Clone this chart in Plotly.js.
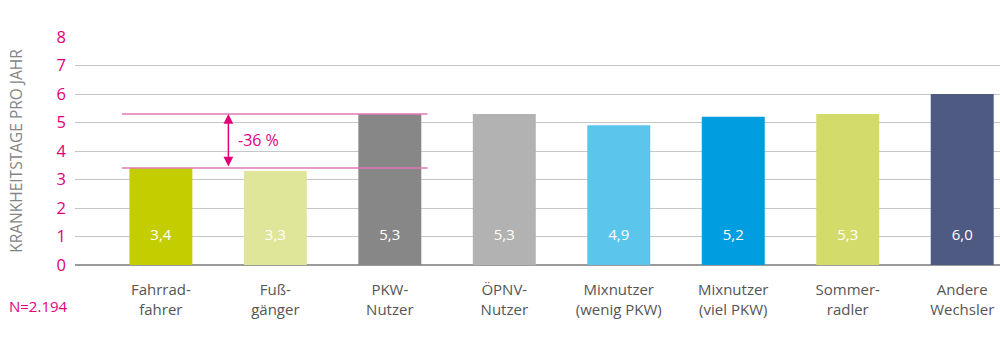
<!DOCTYPE html>
<html><head><meta charset="utf-8">
<script src="https://cdn.plot.ly/plotly-3.0.1.min.js"></script>
<style>html,body{margin:0;padding:0;background:#fff}#c{width:1000px;height:363px}</style>
</head><body><div id="c"></div>
<script>
const categories = ["Fahrrad-<br>fahrer","Fuß-<br>gänger","PKW-<br>Nutzer","ÖPNV-<br>Nutzer","Mixnutzer<br>(wenig PKW)","Mixnutzer<br>(viel PKW)","Sommer-<br>radler","Andere<br>Wechsler"];
const values = [3.4, 3.3, 5.3, 5.3, 4.9, 5.2, 5.3, 6.0];
const colors = ["#c3cd00","#dfe69a","#878787","#b2b2b2","#5bc5ec","#009ee0","#d3dc6a","#4f5a83"];
const gridTicks = [0,1,2,3,4,5,6,7];
const labelTicks = [0,1,2,3,4,5,6,7,8];
const compareHigh = values[2], compareLow = values[0];
const diffText = "-36 %";
const sampleText = "N=2.194";
const labelLevel = 1;

const idx = categories.map((c,i)=>i);
const pink = "#e2007a";
const font = "'Open Sans', 'Noto Sans', sans-serif";

const traces = [
  {type:"bar", x:idx, y:values, marker:{color:colors}, width:0.55, hoverinfo:"none"},
  {type:"scatter", mode:"text", x:idx, y:values.map(()=>labelLevel), yaxis:"y2",
   text:values.map(v=>v.toFixed(1).replace(".",",")), textfont:{color:"#ffffff", size:15, family:font}, hoverinfo:"none"}
];

const layout = {
  width:1000, height:363,
  margin:{l:75, r:0, t:37, b:98},
  paper_bgcolor:"#fff", plot_bgcolor:"#fff",
  showlegend:false,
  font:{family:font},
  xaxis:{range:[-0.75,7.33], tickvals:idx, ticktext:categories, showgrid:false, zeroline:false,
    showline:false, ticks:"", tickfont:{size:15,color:"#555555",family:font}, ticklabelstandoff:14},
  yaxis:{range:[0,8], tickvals:gridTicks, showticklabels:false, showgrid:true, gridcolor:"#c6c6c6", gridwidth:1,
    zeroline:true, zerolinecolor:"#9a9a9a", zerolinewidth:1.5, ticks:""},
  yaxis2:{range:[0,8], overlaying:"y", side:"left", tickvals:labelTicks, showgrid:false, zeroline:false,
    tickfont:{size:16.5,color:pink,family:font}, ticks:"", ticklabelstandoff:8,
    title:{text:"KRANKHEITSTAGE PRO JAHR", font:{size:15.5,color:"#858585",family:font}, standoff:30}},
  shapes:[
    {type:"line", xref:"x", yref:"y", x0:-0.34, x1:2.33, y0:compareHigh, y1:compareHigh, line:{color:"#e07ab4", width:1.5}},
    {type:"line", xref:"x", yref:"y", x0:-0.34, x1:2.33, y0:compareLow, y1:compareLow, line:{color:"#e07ab4", width:1.5}}
  ],
  annotations:[
    {xref:"x", yref:"y", x:0.59, y:compareHigh, axref:"x", ayref:"y", ax:0.59, ay:compareLow, text:"",
     showarrow:true, arrowside:"end+start", arrowhead:2, arrowsize:1.3, arrowwidth:1.5, arrowcolor:pink, standoff:0, startstandoff:0},
    {xref:"x", yref:"y", x:0.66, y:(compareHigh+compareLow)/2+0.05, text:diffText, showarrow:false, xanchor:"left",
     font:{size:16,color:pink,family:font}},
    {xref:"paper", yref:"paper", x:-0.074, y:-0.178, xanchor:"left", yanchor:"middle", text:sampleText, showarrow:false,
     font:{size:15,color:pink,family:font}}
  ]
};
Plotly.newPlot("c", traces, layout, {displayModeBar:false, staticPlot:true});
</script></body></html>
